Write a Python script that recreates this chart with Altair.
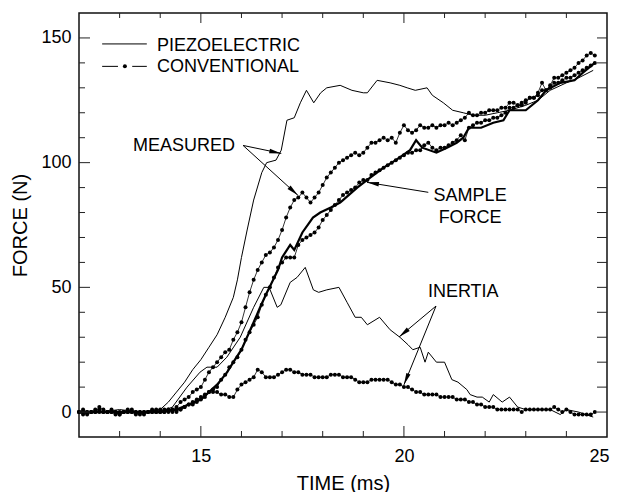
import math
import altair as alt
import pandas as pd

# ---------------- data ----------------
# conventional transducer, sampled every 0.1 ms
t_conv = [
    12.0, 12.1, 12.2, 12.3, 12.4, 12.5, 12.6, 12.7, 12.8, 12.9,
    13.0, 13.1, 13.2, 13.3, 13.4, 13.5, 13.6, 13.7, 13.8, 13.9,
    14.0, 14.1, 14.2, 14.3, 14.4, 14.5, 14.6, 14.7, 14.8, 14.9,
    15.0, 15.1, 15.2, 15.3, 15.4, 15.5, 15.6, 15.7, 15.8, 15.9,
    16.0, 16.1, 16.2, 16.3, 16.4, 16.5, 16.6, 16.7, 16.8, 16.9,
    17.0, 17.1, 17.2, 17.3, 17.4, 17.5, 17.6, 17.7, 17.8, 17.9,
    18.0, 18.1, 18.2, 18.3, 18.4, 18.5, 18.6, 18.7, 18.8, 18.9,
    19.0, 19.1, 19.2, 19.3, 19.4, 19.5, 19.6, 19.7, 19.8, 19.9,
    20.0, 20.1, 20.2, 20.3, 20.4, 20.5, 20.6, 20.7, 20.8, 20.9,
    21.0, 21.1, 21.2, 21.3, 21.4, 21.5, 21.6, 21.7, 21.8, 21.9,
    22.0, 22.1, 22.2, 22.3, 22.4, 22.5, 22.6, 22.7, 22.8, 22.9,
    23.0, 23.1, 23.2, 23.3, 23.4, 23.5, 23.6, 23.7, 23.8, 23.9,
    24.0, 24.1, 24.2, 24.3, 24.4, 24.5, 24.6, 24.7,
]
conv_measured = [
    0, -1, 0, 0, 1, 0, 0, 0, 1, 0,
    -1, 0, 0, 1, 0, 0, -1, 0, 1, 0,
    0, 1, 0, 1, 2, 4, 5, 6, 8, 9,
    10, 13, 16, 18, 20, 22, 24, 25, 29, 32,
    36, 42, 48, 53, 57, 60, 63, 64, 66, 69,
    73, 78, 82, 85, 86, 88, 86, 84, 86, 88,
    91, 94, 96, 98, 100, 101, 102, 103, 104, 103,
    104, 106, 108, 108, 109, 110, 109, 110, 108, 112,
    115, 113, 112, 113, 115, 114, 114, 115, 114, 115,
    115, 116, 115, 116, 117, 118, 120, 119, 119, 120,
    120, 121, 121, 121, 122, 122, 124, 124, 123, 124,
    125, 126, 126, 128, 132, 129, 131, 134, 134, 135,
    136, 137, 138, 140, 141, 143, 144, 143,
]
conv_sample = [
    0, 0, -1, 0, 0, 1, 0, 0, 0, -1,
    0, 0, 1, 0, -1, 0, 0, 0, 0, 1,
    0, 0, 1, 0, 1, 1, 2, 3, 3, 4,
    5, 6, 8, 9, 10, 13, 15, 18, 20, 22,
    25, 29, 32, 35, 38, 43, 47, 50, 54, 58,
    60, 62, 62, 62, 67, 69, 70, 71, 72, 74,
    77, 79, 81, 83, 85, 87, 88, 89, 90, 92,
    93, 93, 95, 96, 97, 98, 99, 100, 101, 102,
    103, 104, 104, 105, 105, 107, 108, 106, 105, 106,
    106, 107, 108, 109, 111, 109, 114, 115, 116, 116,
    117, 117, 118, 118, 119, 120, 122, 122, 123, 123,
    124, 126, 126, 127, 129, 129, 130, 132, 132, 133,
    134, 134, 135, 136, 137, 138, 139, 140,
]
conv_inertia = [
    0, 1, 0, 0, 0, 2, 1, 0, 0, 0,
    -1, 0, 0, 0, 0, -1, 0, 0, 0, 0,
    1, 0, 1, 1, 0, 1, 2, 3, 4, 5,
    6, 7, 8, 8, 8, 7, 7, 6, 6, 9,
    11, 12, 13, 14, 17, 16, 14, 14, 14, 15,
    16, 17, 17, 16, 16, 15, 15, 15, 14, 14,
    14, 14, 15, 15, 15, 14, 14, 14, 13, 12,
    12, 12, 13, 13, 13, 13, 13, 12, 11, 11,
    10, 10, 9, 8, 8, 7, 7, 7, 7, 6,
    6, 6, 6, 5, 5, 5, 4, 4, 3, 3,
    2, 2, 2, 1, 1, 1, 1, 1, 1, 0,
    1, 1, 1, 1, 1, 1, 1, 2, 1, 0,
    1, 0, -1, -1, -1, -1, -1, 0,
]

# piezoelectric transducer
t_piezo_measured = [
    12.0, 12.5, 13.0, 13.5, 14.0, 14.2, 14.4, 14.6, 14.8, 15.0,
    15.2, 15.4, 15.6, 15.8, 15.9, 16.0, 16.14, 16.3, 16.5, 16.62,
    16.85, 16.98, 17.12, 17.3, 17.45, 17.6, 17.78, 17.95, 18.1, 18.43,
    18.72, 19.0, 19.1, 19.34, 19.66, 19.9, 20.08, 20.28, 20.57, 20.7,
    20.97, 21.2, 21.46, 21.7, 22.0, 22.3, 22.6, 23.0, 23.3, 23.6,
    24.0, 24.3, 24.66,
]
piezo_measured = [
    0, 0, 1, 0, 1, 4, 8, 12, 17, 21,
    26, 31, 38, 46, 53, 62, 73, 85, 96, 100,
    101, 105, 117, 118, 124, 129, 124, 128, 130, 131,
    129, 128, 128, 133, 132, 131, 130, 129, 130, 127,
    124, 121, 120, 119, 119, 120, 121, 123, 125, 129,
    132, 134, 137,
]
t_piezo_sample = [
    12.0, 12.5, 13.0, 13.5, 14.0, 14.4, 14.7, 15.0, 15.2, 15.4,
    15.65, 15.8, 16.0, 16.3, 16.46, 16.6, 16.9, 17.0, 17.2, 17.3,
    17.5, 17.76, 17.94, 18.2, 18.43, 18.5, 18.85, 19.17, 19.5, 19.8,
    20.15, 20.3, 20.45, 20.8, 21.06, 21.3, 21.46, 21.6, 21.9, 22.2,
    22.45, 22.6, 23.0, 23.3, 23.5, 23.85, 24.2, 24.4, 24.7,
]
piezo_sample = [
    0, 0, 0, 0, 0, 1, 3, 5, 8, 11,
    16, 20, 25, 36, 42, 47, 57, 62, 67, 65,
    72, 78, 80, 82, 84, 85, 90, 94, 98, 101,
    105, 109, 106, 104, 106, 108, 110, 114, 114, 116,
    117, 121, 121, 125, 129, 132, 133, 136, 140,
]
t_piezo_inertia = [
    12.0, 12.5, 13.0, 13.5, 14.0, 14.3, 14.66, 14.98, 15.15, 15.4,
    15.64, 15.97, 16.3, 16.55, 16.68, 16.88, 16.97, 17.2, 17.37, 17.57,
    17.77, 17.9, 18.1, 18.4, 18.6, 18.8, 18.95, 19.1, 19.4, 19.66,
    19.9, 20.1, 20.22, 20.4, 20.52, 20.6, 20.8, 21.0, 21.18, 21.33,
    21.55, 21.63, 21.8, 21.93, 22.1, 22.2, 22.42, 22.6, 22.8, 23.0,
    23.4, 23.6, 23.85, 24.0, 24.3, 24.66,
]
piezo_inertia = [
    0, 0, 0, 0, 0, 2, 10, 16, 18, 18,
    22, 30, 42, 50, 50, 42, 43, 52, 54, 58,
    49, 48, 49, 50, 44, 38, 38, 35, 38, 33,
    30, 27, 25, 26, 20, 24, 20, 20, 13, 12,
    9, 7, 6, 6, 4, 7, 4, 6, 2, 1,
    1, 1, -1, 1, 0, -2,
]

# axes
x_domain = [12, 25]
y_domain = [-10, 160]
x_major = [15, 20]
x_minor = [13, 14, 16, 17, 18, 19, 21, 22, 23, 24]
y_major = [0, 50, 100, 150]
y_minor = [10, 20, 30, 40, 60, 70, 80, 90, 110, 120, 130, 140]
x_labels = [15, 20, 25]

# legend (data units)
legend_text = ["PIEZOELECTRIC", "CONVENTIONAL"]
legend_text_t = [13.92, 13.92]
legend_text_f = [146.9, 138.4]
legend_solid_t = [12.57, 13.67]
legend_solid_f = 147.6
legend_dash_t1 = [12.57, 13.31]
legend_dash_t2 = [12.96, 13.67]
legend_dash_f = 138.6
legend_dot_t = 13.13

# annotations (data units)
left_text = ["MEASURED"]
left_text_t = [13.33]
left_text_f = [106.5]
center_text = ["SAMPLE", "FORCE", "INERTIA"]
center_text_t = [21.63, 21.63, 21.46]
center_text_f = [86.5, 77.7, 48.1]
arrow_t0 = [16.04, 16.04, 20.60, 20.79, 20.79]
arrow_f0 = [106.9, 106.9, 88.1, 42.5, 42.5]
arrow_t1 = [16.98, 17.39, 19.09, 19.88, 20.00]
arrow_f1 = [103.7, 86.9, 92.1, 30.1, 10.9]

# ---------------- chart ----------------
W, H = 528, 424
FONT = "Liberation Sans"
px_t = W / (x_domain[1] - x_domain[0])
px_f = H / (y_domain[1] - y_domain[0])

xs = alt.Scale(domain=x_domain, nice=False, zero=False)
ys = alt.Scale(domain=y_domain, nice=False, zero=False)

X_AX = alt.Axis(title="TIME (ms)", values=x_labels, ticks=False, tickSize=0, domain=False,
                grid=False, labelFontSize=18, labelPadding=10, labelFlush=True, labelFlushOffset=2,
                titleFontSize=20, titlePadding=8, titleFontWeight="normal")
Y_AX = alt.Axis(title="FORCE (N)", values=y_major, ticks=False, tickSize=0, domain=False,
                grid=False, labelFontSize=18, labelPadding=8, labelFlush=False,
                titleFontSize=20, titlePadding=10, titleFontWeight="normal")


def X(field):
    return alt.X(field, scale=xs, axis=X_AX)


def Y(field):
    return alt.Y(field, scale=ys, axis=Y_AX)


piezo_thin = pd.concat([
    pd.DataFrame({"t": t_piezo_measured, "F": piezo_measured, "s": "measured"}),
    pd.DataFrame({"t": t_piezo_inertia, "F": piezo_inertia, "s": "inertia"}),
])
piezo_thick = pd.DataFrame({"t": t_piezo_sample, "F": piezo_sample})
conv = pd.concat([
    pd.DataFrame({"t": t_conv, "F": conv_measured, "s": "measured"}),
    pd.DataFrame({"t": t_conv, "F": conv_sample, "s": "sample"}),
    pd.DataFrame({"t": t_conv, "F": conv_inertia, "s": "inertia"}),
])

thin = alt.Chart(piezo_thin).mark_line(color="black", strokeWidth=1).encode(
    x=X("t:Q"), y=Y("F:Q"), detail="s:N")
thick = alt.Chart(piezo_thick).mark_line(color="black", strokeWidth=2.2).encode(
    x=X("t:Q"), y=Y("F:Q"))
conv_line = alt.Chart(conv).mark_line(color="black", strokeWidth=0.8).encode(
    x=X("t:Q"), y=Y("F:Q"), detail="s:N")
conv_pts = alt.Chart(conv).mark_point(filled=True, color="black", size=16, opacity=1).encode(
    x=X("t:Q"), y=Y("F:Q"))


# inward tick marks on all four sides
def xticks(vals, y0, y1):
    return alt.Chart(pd.DataFrame({"t": vals})).mark_rule(color="#222", strokeWidth=1).encode(
        x=X("t:Q"), y=alt.value(y0), y2=alt.value(y1))


def yticks(vals, x0, x1):
    return alt.Chart(pd.DataFrame({"F": vals})).mark_rule(color="#222", strokeWidth=1).encode(
        y=Y("F:Q"), x=alt.value(x0), x2=alt.value(x1))


ticks = [
    xticks(x_major, H, H - 11), xticks(x_minor, H, H - 6),
    xticks(x_major, 0, 10), xticks(x_minor, 0, 5),
    yticks(y_major, 0, 11), yticks(y_minor, 0, 6),
    yticks(y_major, W, W - 10), yticks(y_minor, W, W - 10),
]

# legend
leg_txt = alt.Chart(pd.DataFrame({"t": legend_text_t, "F": legend_text_f, "txt": legend_text})).mark_text(
    font=FONT, fontSize=18, align="left", baseline="middle", color="black").encode(
    x=X("t:Q"), y=Y("F:Q"), text="txt:N")
leg_seg = pd.DataFrame({
    "t": [legend_solid_t[0]] + legend_dash_t1,
    "t2": [legend_solid_t[1]] + legend_dash_t2,
    "F": [legend_solid_f, legend_dash_f, legend_dash_f],
})
leg_lines = alt.Chart(leg_seg).mark_rule(color="black", strokeWidth=1).encode(
    x=X("t:Q"), x2="t2:Q", y=Y("F:Q"))
leg_dot = alt.Chart(pd.DataFrame({"t": [legend_dot_t], "F": [legend_dash_f]})).mark_point(
    filled=True, color="black", size=16, opacity=1).encode(x=X("t:Q"), y=Y("F:Q"))

# annotations
ann_left = alt.Chart(pd.DataFrame({"t": left_text_t, "F": left_text_f, "txt": left_text})).mark_text(
    font=FONT, fontSize=18, align="left", baseline="middle", color="black").encode(
    x=X("t:Q"), y=Y("F:Q"), text="txt:N")
ann_center = alt.Chart(pd.DataFrame({"t": center_text_t, "F": center_text_f, "txt": center_text})).mark_text(
    font=FONT, fontSize=18, align="center", baseline="middle", color="black").encode(
    x=X("t:Q"), y=Y("F:Q"), text="txt:N")

angles = []
for a, b, c, d in zip(arrow_t0, arrow_f0, arrow_t1, arrow_f1):
    angles.append(math.degrees(math.atan2((c - a) * px_t, (d - b) * px_f)) % 360)
arr = pd.DataFrame({"t0": arrow_t0, "f0": arrow_f0, "t": arrow_t1, "F": arrow_f1, "ang": angles})
arrow_lines = alt.Chart(arr).mark_rule(color="black", strokeWidth=1).encode(
    x=X("t0:Q"), y=Y("f0:Q"), x2="t:Q", y2="F:Q")
arrow_heads = alt.Chart(arr).mark_point(
    shape="M0,0L0.45,2.4L-0.45,2.4Z", filled=True, color="black", size=100, opacity=1, strokeWidth=0).encode(
    x=X("t:Q"), y=Y("F:Q"), angle=alt.Angle("ang:Q", scale=None))

chart = alt.layer(
    thin, thick, conv_line, conv_pts, *ticks,
    leg_lines, leg_dot, leg_txt, ann_left, ann_center, arrow_lines, arrow_heads,
).properties(
    width=W, height=H,
    autosize=alt.AutoSizeParams(type="none"),
    padding={"left": 71, "top": 5, "right": 3, "bottom": 55},
).configure_view(
    stroke="#111", strokeWidth=1.5
).configure_axis(
    labelFont=FONT, titleFont=FONT, labelColor="black", titleColor="black"
)

chart.save("out.html", embed_options={"renderer": "svg", "actions": False})
